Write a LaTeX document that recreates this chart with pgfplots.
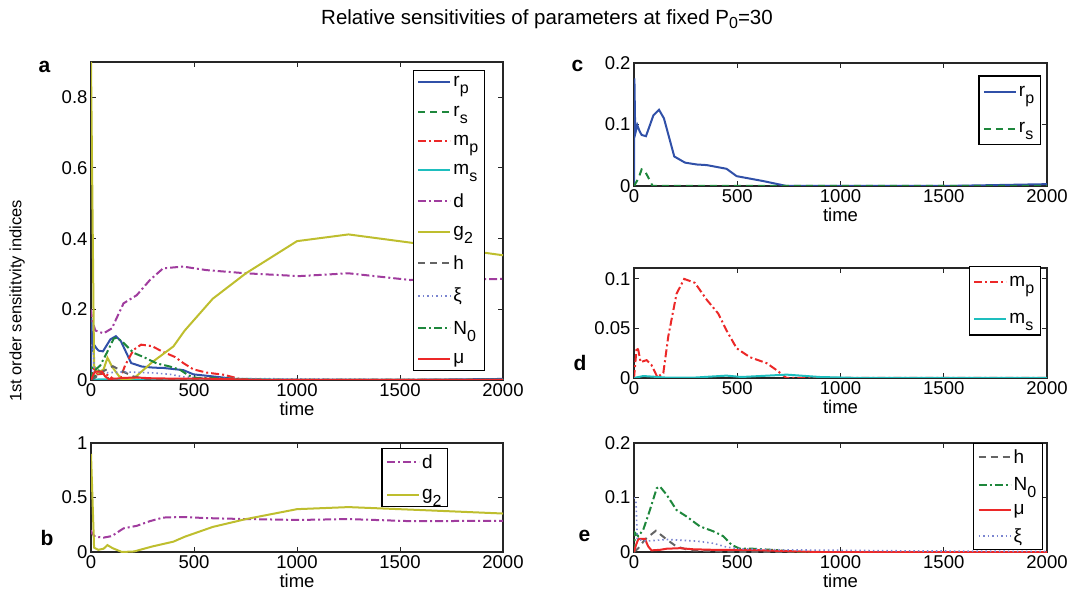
\documentclass[border=0pt]{standalone}
\usepackage{fontspec}
\setmainfont{Liberation Sans}
\usepackage{pgfplots}
\usepackage{pgfplotstable}
\pgfplotsset{compat=1.18}

\definecolor{cblue}{RGB}{48,80,168}
\definecolor{cgreen}{RGB}{30,135,60}
\definecolor{cred}{RGB}{236,40,40}
\definecolor{ccyan}{RGB}{30,190,190}
\definecolor{cpurple}{RGB}{160,60,158}
\definecolor{colive}{RGB}{190,190,46}
\definecolor{cgray}{RGB}{100,100,100}
\definecolor{clav}{RGB}{123,133,208}

% MATLAB-like subscript: nearly full size, dropped low
\newcommand\sub[1]{\raisebox{-7pt}{\fontsize{16}{16}\selectfont #1}}

\tikzset{
  rp/.style={cblue, solid, line width=2pt},
  rs/.style={cgreen, dash pattern=on 7pt off 5pt, line width=2pt},
  mp/.style={cred, dash pattern=on 8pt off 3pt on 2pt off 3pt, line width=2pt},
  ms/.style={ccyan, solid, line width=2pt},
  dd/.style={cpurple, dash pattern=on 8pt off 3pt on 2pt off 3pt, line width=2pt},
  gg/.style={colive, solid, line width=2pt},
  hh/.style={cgray, dash pattern=on 7pt off 5pt, line width=2pt},
  xi/.style={clav, dash pattern=on 1.5pt off 3pt, line width=1.6pt},
  nn/.style={cgreen, dash pattern=on 8pt off 3pt on 2pt off 3pt, line width=2pt},
  mu/.style={cred, solid, line width=2pt},
}

% one table per parameter: time, index
\pgfplotstableread{
t v
0 0
2 0.175
6 0.085
16 0.099
26 0.09
37 0.083
58 0.081
94 0.115
121 0.124
145 0.11
195 0.048
247 0.038
303 0.035
352 0.034
448 0.028
497 0.016
626 0.008
739 0
1000 0
1500 0
2000 0.003
}\rptab
\pgfplotstableread{
t v
0 0
21 0.012
37 0.027
53 0.024
77 0.009
90 0
2000 0
}\rstab
\pgfplotstableread{
t v
0 0
13 0.031
21 0.028
32 0.016
61 0.018
85 0.013
113 0.001
142 0.005
166 0.042
206 0.085
243 0.1
295 0.096
352 0.079
408 0.065
448 0.048
497 0.03
561 0.021
642 0.015
690 0.008
739 0
2000 0
}\mptab
\pgfplotstableread{
t v
0 0
45 0.002
150 0.0005
300 0.0005
448 0.0024
520 0.001
739 0.0034
900 0.001
1100 0
2000 0
}\mstab
\pgfplotstableread{
t v
0 0.2
5 0.17
21 0.14
61 0.132
101 0.146
158 0.217
222 0.24
286 0.283
350 0.316
447 0.321
560 0.311
752 0.302
1010 0.294
1250 0.302
1550 0.283
2000 0.286
}\dtab
\pgfplotstableread{
t v
0 0.9
15 0.04
35 0.02
61 0.03
80 0.063
104 0.036
150 0
209 0.005
296 0.05
400 0.095
455 0.14
591 0.23
752 0.302
1000 0.393
1250 0.412
1600 0.385
2000 0.353
}\gtab
\pgfplotstableread{
t v
0 0
21 0.007
53 0.023
106 0.039
158 0.023
206 0.01
271 0.003
400 0.001
600 0
2000 0
}\htab
\pgfplotstableread{
t v
0 0.1
10 0.09
16 0.023
61 0.02
158 0.023
303 0.02
384 0.016
448 0.009
513 0.006
706 0.004
1029 0.003
1350 0.002
2000 0.001
}\xitab
\pgfplotstableread{
t v
0 0
5 0.035
21 0.029
45 0.041
77 0.077
110 0.117
126 0.12
158 0.105
206 0.077
255 0.065
319 0.047
384 0.038
432 0.029
473 0.013
513 0.006
577 0.006
706 0.003
787 0
2000 0
}\ntab
\pgfplotstableread{
t v
0 0
10 0.013
21 0.024
53 0.024
69 0.01
85 0.003
126 0.004
158 0.006
223 0.007
287 0.005
384 0.004
545 0.004
706 0.002
800 0.001
900 0
2000 0
}\mutab

\pgfplotsset{
  panel/.style={
    scale only axis,
    anchor=south west,
    xmin=0, xmax=2000, ymin=0,
    xtick={0,500,1000,1500,2000},
    major tick length=5pt,
    axis line style={line width=1.2pt, black!85},
    tick style={line width=1pt, black!85},
    ticklabel style={font=\fontsize{18.5}{20}\selectfont},
    /pgf/number format/assume math mode=true,
    /pgf/number format/1000 sep={},
    scaled ticks=false,
    yticklabel style={/pgf/number format/fixed},
    xlabel={time},
    xlabel style={font=\fontsize{18.5}{20}\selectfont, yshift=1pt},
    legend cell align=left,
    legend image code/.code={\draw[##1] (0pt,0pt) -- (32pt,0pt);},
    legend style={draw=black, line width=1.3pt, fill=white,
      font=\fontsize{19}{21}\selectfont, anchor=north east,
      inner xsep=4pt, inner ysep=4pt},
    clip=true,
  },
}

\begin{document}
\begin{tikzpicture}
\useasboundingbox (0pt,0pt) rectangle (1074pt,595pt);

% panel a
\begin{axis}[panel, at={(91pt,215pt)}, width=412pt, height=318pt,
  ymax=0.9, ytick={0,0.2,0.4,0.6,0.8},
  legend style={at={(0.956,0.975)}, row sep=13.5pt}]
\addplot[rp] table {\rptab}; \addlegendentry{r\sub{p}}
\addplot[rs] table {\rstab}; \addlegendentry{r\sub{s}}
\addplot[mp] table {\mptab}; \addlegendentry{m\sub{p}}
\addplot[ms] table {\mstab}; \addlegendentry{m\sub{s}}
\addplot[dd] table {\dtab}; \addlegendentry{d}
\addplot[gg] table {\gtab}; \addlegendentry{g\sub{2}}
\addplot[hh] table {\htab}; \addlegendentry{h}
\addplot[xi] table {\xitab}; \addlegendentry{ξ}
\addplot[nn] table {\ntab}; \addlegendentry{N\sub{0}}
\addplot[mu] table {\mutab}; \addlegendentry{μ}
\end{axis}

% panel b
\begin{axis}[panel, at={(91pt,43pt)}, width=412pt, height=109pt,
  ymax=1, ytick={0,0.5,1},
  legend style={at={(0.867,0.954)}, row sep=15pt}]
\addplot[dd] table {\dtab}; \addlegendentry{d}
\addplot[gg] table {\gtab}; \addlegendentry{g\sub{2}}
\end{axis}

% panel c
\begin{axis}[panel, at={(634pt,409pt)}, width=413pt, height=123pt,
  ymax=0.2, ytick={0,0.1,0.2},
  legend style={at={(0.985,0.9)}, row sep=21pt, inner ysep=8pt}]
\addplot[rp] table {\rptab}; \addlegendentry{r\sub{p}}
\addplot[rs] table {\rstab}; \addlegendentry{r\sub{s}}
\end{axis}

% panel d
\begin{axis}[panel, at={(634pt,217pt)}, width=413pt, height=110pt,
  ymax=0.111, ytick={0,0.05,0.1},
  legend style={at={(0.985,1.02)}, row sep=21pt, inner ysep=8pt}]
\addplot[mp] table {\mptab}; \addlegendentry{m\sub{p}}
\addplot[ms] table {\mstab}; \addlegendentry{m\sub{s}}
\end{axis}

% panel e
\begin{axis}[panel, at={(634pt,43pt)}, width=413pt, height=109pt,
  ymax=0.2, ytick={0,0.1,0.2},
  legend style={at={(0.99,1)}, row sep=8.5pt}]
\addplot[hh] table {\htab}; \addlegendentry{h}
\addplot[nn] table {\ntab}; \addlegendentry{N\sub{0}}
\addplot[mu] table {\mutab}; \addlegendentry{μ}
\addplot[xi] table {\xitab}; \addlegendentry{ξ}
\end{axis}

\node[font=\fontsize{20.5}{24}\selectfont] at (547pt,576pt)
  {Relative sensitivities of parameters at fixed P\raisebox{-4pt}{\fontsize{16}{16}\selectfont 0}=30};
\node[rotate=90, font=\fontsize{16.5}{20}\selectfont] at (17pt,294pt)
  {1st order sensititvity indices};
\node[anchor=base west, font=\fontsize{21}{24}\bfseries] at (35pt,522pt) {a};
\node[anchor=base west, font=\fontsize{21}{24}\bfseries] at (37pt,50pt) {b};
\node[anchor=base west, font=\fontsize{21}{24}\bfseries] at (568pt,523pt) {c};
\node[anchor=base west, font=\fontsize{21}{24}\bfseries] at (570pt,224pt) {d};
\node[anchor=base west, font=\fontsize{21}{24}\bfseries] at (575pt,54pt) {e};
\end{tikzpicture}
\end{document}
